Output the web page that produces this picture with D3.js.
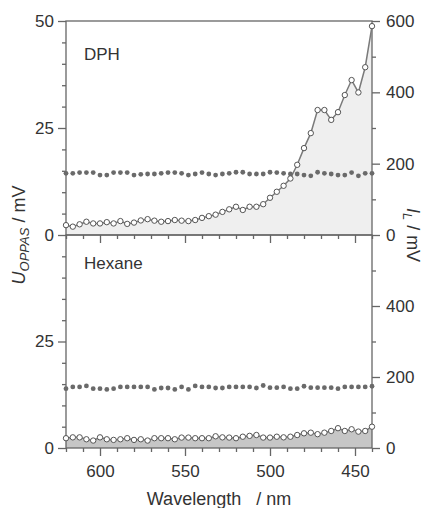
<!DOCTYPE html>
<html>
<head>
<meta charset="utf-8">
<script src="https://cdn.jsdelivr.net/npm/d3@7"></script>
<style>
  body { margin: 0; background: #fff; }
  text { font-family: "Liberation Sans", Arial, sans-serif; fill: #333; }
</style>
</head>
<body>
<svg id="chart" width="430" height="508"></svg>
<script>
// wavelengths, nm (every 4 nm, 620 -> 440)
const wavelengths = [620, 616, 612, 608, 604, 600, 596, 592, 588, 584,
  580, 576, 572, 568, 564, 560, 556, 552, 548, 544,
  540, 536, 532, 528, 524, 520, 516, 512, 508, 504,
  500, 496, 492, 488, 484, 480, 476, 472, 468, 464,
  460, 456, 452, 448, 444, 440];

// U_OPPAS / mV (open circles, left axis)
const dphOppas = [2.3, 1.95, 2.5, 3.1, 2.7, 2.7, 3.0, 2.7, 3.25, 2.6,
  2.9, 3.4, 3.7, 3.35, 3.1, 3.25, 3.5, 3.35, 3.25, 3.5,
  4.0, 4.4, 4.75, 5.4, 6.0, 6.6, 5.85, 6.6, 6.6, 7.2,
  8.7, 10.1, 11.5, 13.2, 16.4, 20.3, 23.8, 29.2, 29.2, 26.9,
  28.7, 32.7, 36.2, 33.3, 39.2, 48.8];
const hexaneOppas = [2.3, 2.5, 2.5, 2.05, 1.75, 2.5, 2.05, 1.9, 2.05, 2.3,
  1.9, 2.05, 1.75, 2.3, 2.3, 2.3, 2.05, 2.45, 2.45, 2.3,
  2.3, 2.3, 2.75, 2.5, 2.45, 2.3, 2.65, 2.85, 3.05, 2.45,
  2.45, 2.65, 2.5, 2.65, 3.05, 3.45, 3.6, 3.25, 3.6, 4.0,
  4.65, 4.0, 4.4, 3.85, 4.0, 5.0];

// I_L / mV (filled circles, right axis)
const dphLaser = [173, 173, 175, 175, 175, 168, 168, 175, 175, 175,
  168, 170, 171, 171, 173, 175, 175, 173, 168, 171,
  175, 171, 168, 171, 173, 176, 176, 171, 171, 171,
  176, 175, 173, 171, 171, 168, 166, 176, 173, 171,
  168, 168, 175, 166, 173, 173];
const hexaneLaser = [167, 172, 172, 175, 167, 167, 165, 167, 172, 172,
  172, 172, 172, 165, 169, 169, 165, 172, 165, 175,
  172, 172, 169, 169, 172, 172, 172, 172, 169, 176,
  170, 170, 172, 167, 167, 174, 170, 170, 170, 170,
  167, 172, 172, 172, 172, 174];

const xMajor = [600, 550, 500, 450];
const xMinor = [610, 590, 580, 570, 560, 540, 530, 520, 510, 490, 480, 470, 460, 440, 620];
const leftMinor = [5, 10, 15, 20, 30, 35, 40, 45];
const rightMinor = [100, 300, 500];

const panels = [
  {name: "DPH", oppas: dphOppas, laser: dphLaser, top: 21, bottom: 235,
   fill: "#efefef", leftTicks: [0, 25, 50], rightTicks: [0, 200, 400, 600], xLabels: false},
  {name: "Hexane", oppas: hexaneOppas, laser: hexaneLaser, top: 235, bottom: 448,
   fill: "#c6c6c6", leftTicks: [0, 25], rightTicks: [0, 200, 400], xLabels: true}
];

const axisColor = "#666";
const svg = d3.select("#chart");
const x = d3.scaleLinear().domain([620, 440]).range([66, 372]);

function styleAxis(g) {
  g.select(".domain").remove();
  g.selectAll("line").attr("stroke", axisColor).attr("stroke-width", 1.3);
  g.selectAll("text").attr("font-size", 17).attr("fill", "#333")
    .attr("font-family", "'Liberation Sans', Arial, sans-serif");
}

panels.forEach(p => {
  const yL = d3.scaleLinear().domain([0, 50]).range([p.bottom, p.top]);
  const yR = d3.scaleLinear().domain([0, 600]).range([p.bottom, p.top]);
  const data = wavelengths.map((w, i) => ({w, u: p.oppas[i], l: p.laser[i]}));
  const g = svg.append("g");

  // area under the OPPAS signal
  g.append("path")
    .datum(data)
    .attr("fill", p.fill)
    .attr("d", d3.area().x(d => x(d.w)).y0(yL(0)).y1(d => yL(d.u)));

  // frame
  g.append("rect")
    .attr("x", x(620)).attr("y", p.top)
    .attr("width", x(440) - x(620)).attr("height", p.bottom - p.top)
    .attr("fill", "none").attr("stroke", axisColor).attr("stroke-width", 1.3);

  // axes
  g.append("g").attr("transform", `translate(${x(620)},0)`)
    .call(d3.axisLeft(yL).tickValues(p.leftTicks).tickSize(8).tickPadding(4)).call(styleAxis);
  g.append("g").attr("transform", `translate(${x(620)},0)`)
    .call(d3.axisLeft(yL).tickValues(leftMinor).tickSize(4).tickFormat("")).call(styleAxis);
  g.append("g").attr("transform", `translate(${x(440)},0)`)
    .call(d3.axisRight(yR).tickValues(p.rightTicks).tickSize(8).tickPadding(6)).call(styleAxis);
  g.append("g").attr("transform", `translate(${x(440)},0)`)
    .call(d3.axisRight(yR).tickValues(rightMinor).tickSize(4).tickFormat("")).call(styleAxis);
  const xa = d3.axisBottom(x).tickValues(xMajor).tickSize(8).tickPadding(9);
  if (!p.xLabels) xa.tickFormat("");
  g.append("g").attr("transform", `translate(0,${p.bottom})`).call(xa).call(styleAxis);
  g.append("g").attr("transform", `translate(0,${p.bottom})`)
    .call(d3.axisBottom(x).tickValues(xMinor).tickSize(4).tickFormat("")).call(styleAxis);

  // OPPAS line
  g.append("path")
    .datum(data)
    .attr("fill", "none")
    .attr("stroke", "#7a7a7a")
    .attr("stroke-width", 1.5)
    .attr("d", d3.line().x(d => x(d.w)).y(d => yL(d.u)));

  // laser intensity, filled circles
  g.selectAll("circle.laser")
    .data(data)
    .join("circle")
    .attr("class", "laser")
    .attr("cx", d => x(d.w))
    .attr("cy", d => yR(d.l))
    .attr("r", 2.4)
    .attr("fill", "#6a6a6a");

  // OPPAS, open circles
  g.selectAll("circle.oppas")
    .data(data)
    .join("circle")
    .attr("class", "oppas")
    .attr("cx", d => x(d.w))
    .attr("cy", d => yL(d.u))
    .attr("r", 2.7)
    .attr("fill", "#fff")
    .attr("stroke", "#555")
    .attr("stroke-width", 1);

  g.append("text")
    .attr("x", 84).attr("y", p.top + (p.name === "DPH" ? 39 : 34))
    .attr("font-size", 17)
    .text(p.name);
});

// axis titles
const yTitle = svg.append("text")
  .attr("transform", "translate(25,235) rotate(-90)")
  .attr("text-anchor", "middle")
  .attr("font-size", 18);
yTitle.append("tspan").attr("font-style", "italic").text("U");
yTitle.append("tspan").attr("font-style", "italic").attr("font-size", 13).attr("dy", 4).text("OPPAS");
yTitle.append("tspan").attr("dy", -4).text("\u00a0/ mV");

const rTitle = svg.append("text")
  .attr("transform", "translate(407,235) rotate(90)")
  .attr("text-anchor", "middle")
  .attr("font-size", 18);
rTitle.append("tspan").attr("font-style", "italic").text("I");
rTitle.append("tspan").attr("font-style", "italic").attr("font-size", 13).attr("dy", 4).text("L");
rTitle.append("tspan").attr("dy", -4).text("\u00a0/ mV");

svg.append("text")
  .attr("x", 219).attr("y", 505)
  .attr("text-anchor", "middle")
  .attr("font-size", 18)
  .text("Wavelength\u00a0\u00a0\u00a0/ nm");
</script>
</body>
</html>
